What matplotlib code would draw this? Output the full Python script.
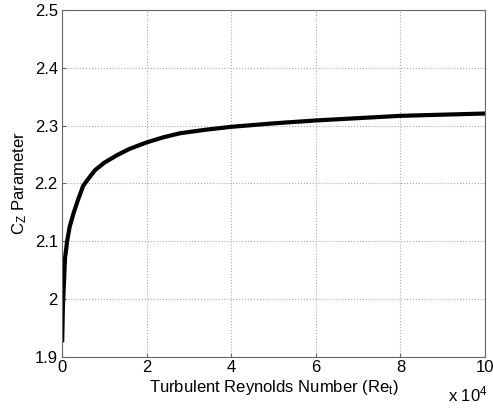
import matplotlib
matplotlib.use("Agg")
import matplotlib.pyplot as plt
from matplotlib.ticker import FuncFormatter

plt.rcParams['font.family'] = ['Liberation Sans', 'DejaVu Sans']
plt.rcParams['mathtext.default'] = 'regular'

# Turbulent Reynolds number and C_Z parameter
re_t = [50, 200, 700, 1200, 1800, 2700, 3700, 5000, 6200, 7800, 10000,
        13000, 16000, 20000, 24000, 28000, 34000, 40000, 50000, 60000,
        70000, 80000, 90000, 100000]
c_z = [1.929, 1.985, 2.070, 2.100, 2.125, 2.148, 2.170, 2.196, 2.208, 2.223,
       2.236, 2.249, 2.260, 2.271, 2.280, 2.287, 2.293, 2.298, 2.304, 2.309,
       2.313, 2.317, 2.319, 2.321]

x_ticks = [0, 20000, 40000, 60000, 80000, 100000]
y_ticks = [1.9, 2.0, 2.1, 2.2, 2.3, 2.4, 2.5]

fig = plt.figure(figsize=(4.93, 4.08), dpi=100)
ax = fig.add_axes([0.1258, 0.125, 0.858, 0.8505])

ax.plot(re_t, c_z, color='black', linewidth=3)

ax.set_xlim(0, 100000)
ax.set_ylim(1.9, 2.5)
ax.set_xticks(x_ticks)
ax.set_yticks(y_ticks)
ax.xaxis.set_major_formatter(FuncFormatter(lambda v, p: "%g" % (v / 1e4)))
ax.yaxis.set_major_formatter(FuncFormatter(lambda v, p: "%g" % v))
ax.tick_params(direction='in', length=3, labelsize=12, color='#666666')
ax.tick_params(axis='x', pad=2)
ax.tick_params(axis='y', pad=3)
ax.grid(True, linestyle=':', color='#aaaaaa', linewidth=0.8)
for s in ax.spines.values():
    s.set_color('#666666')
    s.set_linewidth(0.8)

ax.set_xlabel("Turbulent Reynolds Number (Re$_t$)", fontsize=12, labelpad=2)
ax.set_ylabel("C$_Z$ Parameter", fontsize=12, labelpad=4)
fig.text(0.99, 0.008, "x 10$^4$", fontsize=12, ha='right', va='bottom')

fig.savefig("out.png", dpi=100)
